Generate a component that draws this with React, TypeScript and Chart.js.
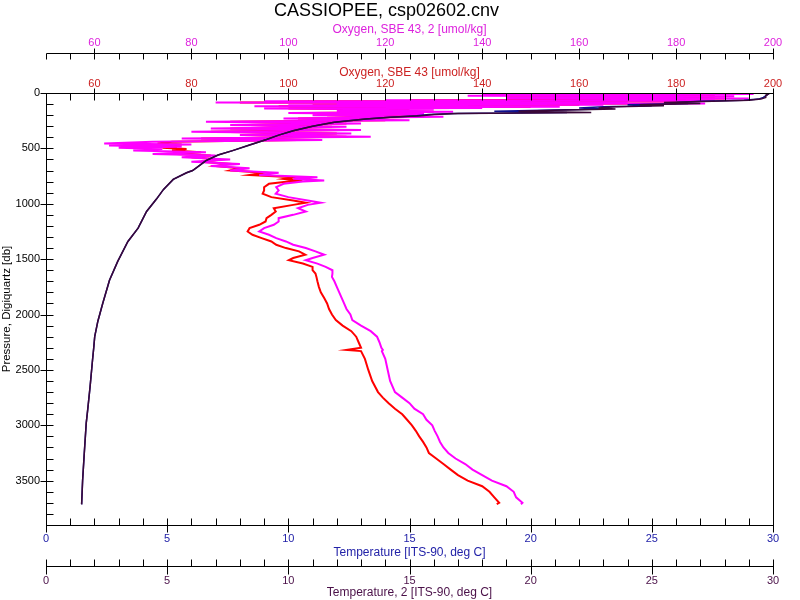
import React, { useEffect, useRef } from 'react';
import { Chart, registerables } from 'chart.js';

Chart.register(...registerables);

const FONT = "'Liberation Sans', Arial, Helvetica, sans-serif";

const chartTitle = 'CASSIOPEE, csp02602.cnv';
const pressureTitle = 'Pressure, Digiquartz [db]';
const oxyTitle = 'Oxygen, SBE 43 [umol/kg]';
const oxy2Title = 'Oxygen, SBE 43, 2 [umol/kg]';
const tempTitle = 'Temperature [ITS-90, deg C]';
const temp2Title = 'Temperature, 2 [ITS-90, deg C]';

// Oxygen profiles (pressure in db)
const oxyPressure = [
  0, 5, 10, 15, 20, 25, 30, 35, 40, 45,
  50, 55, 60, 65, 70, 75, 80, 85, 90, 95,
  100, 105, 110, 115, 120, 125, 130, 135, 140, 150,
  160, 170, 180, 190, 200, 215, 230, 245, 260, 275,
  290, 305, 320, 335, 350, 365, 380, 395, 410, 425,
  440, 455, 465, 475, 485, 495, 505, 520, 535, 550,
  565, 580, 600, 620, 640, 660, 680, 700, 720, 740,
  760, 775, 790, 800, 820, 850, 880, 910, 940, 970,
  990, 1010, 1040, 1070, 1100, 1130, 1160, 1190, 1220, 1250,
  1280, 1310, 1340, 1370, 1400, 1430, 1460, 1490, 1510, 1540,
  1570, 1600, 1630, 1660, 1700, 1750, 1800, 1850, 1900, 1950,
  2000, 2050, 2100, 2150, 2200, 2250, 2300, 2320, 2330, 2400,
  2500, 2600, 2700, 2750, 2800, 2850, 2900, 2950, 3000, 3050,
  3100, 3150, 3200, 3250, 3300, 3350, 3400, 3450, 3500, 3550,
  3600, 3650, 3700, 3712,
];

const oxygen2 = [
  190, 150, 196, 140, 185, 137, 192, 155, 180, 145,
  195, 160, 175, 120, 188, 95, 170, 85, 140, 186,
  110, 165, 100, 150, 93, 156, 105, 140, 95, 130,
  110, 134, 100, 128, 105, 132, 99, 125, 83, 115,
  88, 112, 84, 115, 80, 113, 90, 117, 78, 107,
  72, 62, 80, 63, 78, 65, 74, 68, 83, 72,
  85, 78, 88, 80, 90, 84, 92, 88, 98, 94,
  106, 101, 107.4, 103, 99, 97.5, 98, 97.4, 100, 104,
  106.7, 104, 102, 103.6, 101, 98, 98, 97, 95, 94,
  96, 97.5, 99.5, 101, 103.6, 105.6, 107.4, 105, 103.6, 106,
  107.7, 109.1, 109.1, 109, 109.5, 110, 110.5, 111, 111.5, 112,
  112.8, 113.2, 115, 117, 118.3, 118.8, 119.2, 119.5, 119.3, 120,
  120.5, 121, 122, 123.5, 125, 126, 127.8, 128.5, 129.7, 130.2,
  130.8, 131.3, 132, 133, 134.5, 136.5, 138, 140, 142, 145,
  146.5, 147, 148.3, 148,
];

const oxygen1 = [
  185, 170, 193, 150, 180, 145, 188, 160, 178, 150,
  190, 165, 172, 125, 182, 100, 165, 90, 135, 180,
  115, 160, 105, 145, 98, 150, 110, 135, 100, 125,
  112, 130, 104, 124, 108, 128, 102, 120, 88, 112,
  92, 109, 88, 111, 84, 110, 92, 112, 82, 102,
  76, 73, 78, 72, 77, 74, 79, 76, 82, 77,
  84, 80, 86, 82, 88, 85, 90, 88, 95, 92,
  101, 99, 102.9, 100, 96, 95, 95, 94.7, 96.5, 101,
  103.6, 101, 97, 97.4, 96.5, 95.5, 95.3, 94, 92, 91.6,
  92.6, 94.5, 96.5, 97.5, 99.5, 102.2, 103.5, 101, 100.1, 103,
  105, 105, 105.6, 105.8, 106, 106.3, 106.7, 107.4, 108, 108.4,
  109, 109.8, 111.2, 113, 114, 114.5, 115, 112, 115, 115.8,
  116.5, 117.3, 118.5, 119.5, 120.7, 122, 123.5, 124.5, 125.5, 126.3,
  127, 127.8, 128.5, 129, 130.5, 132, 133.5, 135, 137, 140,
  141.5, 142.5, 143.5, 143,
];

// Temperature profiles (pressure in db)
const tempPressure = [
  0, 10, 25, 40, 55, 65, 75, 85, 95, 105,
  115, 125, 135, 145, 155, 165, 175, 185, 195, 205,
  220, 235, 250, 265, 280, 300, 340, 380, 420, 470,
  520, 560, 610, 660, 700, 720, 780, 870, 960, 1070,
  1220, 1340, 1520, 1690, 1900, 2060, 2200, 2300, 2410, 2650,
  2860, 2980, 3250, 3500, 3714,
];

const temperature2 = [
  29.6, 29.8, 29.7, 29.7, 29.5, 29.0, 27.5, 25.5, 27.0, 24.5,
  25.5, 23.5, 22.8, 23.5, 21.0, 19.5, 22.5, 17.0, 16.0, 15.5,
  14.2, 13.2, 12.5, 11.9, 11.5, 11.0, 10.2, 9.6, 9.1, 8.4,
  7.7, 7.1, 6.6, 6.3, 6.05, 5.8, 5.25, 4.85, 4.55, 4.15,
  3.8, 3.38, 2.96, 2.62, 2.34, 2.14, 2.01, 1.97, 1.92, 1.82,
  1.72, 1.66, 1.58, 1.51, 1.47,
];

const temperature1 = [
  29.6, 29.8, 29.7, 29.6, 29.4, 28.8, 27.0, 26.0, 26.5, 24.0,
  25.0, 23.0, 22.0, 23.0, 20.5, 18.5, 21.5, 16.8, 15.8, 15.3,
  14.2, 13.2, 12.5, 11.9, 11.5, 11.0, 10.2, 9.6, 9.1, 8.4,
  7.7, 7.1, 6.6, 6.3, 6.05, 5.8, 5.25, 4.85, 4.55, 4.15,
  3.8, 3.38, 2.96, 2.62, 2.34, 2.14, 2.01, 1.97, 1.92, 1.82,
  1.72, 1.66, 1.58, 1.51, 1.47,
];

// Axis ranges and tick steps
const oxyRange = [50, 200];
const oxyStep = 5;
const oxyLabelStep = 20;
const tempRange = [0, 30];
const tempStep = 1;
const tempLabelStep = 5;
const pressureRange = [0, 3900];
const pressureStep = 100;
const pressureLabelStep = 500;

const COLORS = {
  oxy2Line: '#ff00ff',
  oxy2Text: '#dd22dd',
  oxyLine: '#ff0000',
  oxyText: '#cc2222',
  tempLine: '#10108c',
  tempText: '#2222a8',
  temp2Line: '#3a0838',
  temp2Text: '#4a1048',
};

const isMult = (v: number, step: number) => Math.abs(v / step - Math.round(v / step)) < 1e-6;

const toPoints = (xs: number[], ps: number[]) => xs.map((v, i) => ({ x: v, y: ps[i] }));

function xScale(
  position: 'top' | 'bottom',
  weight: number,
  range: number[],
  step: number,
  labelStep: number,
  color: string,
  title: string,
  labelPad: number,
  titlePad: any,
  height: number
) {
  return {
    type: 'linear',
    axis: 'x',
    position,
    weight,
    min: range[0],
    max: range[1],
    grid: { display: false, drawTicks: false },
    border: { display: false },
    ticks: {
      stepSize: step,
      autoSkip: false,
      maxTicksLimit: 1000,
      maxRotation: 0,
      minRotation: 0,
      color,
      padding: labelPad,
      font: { family: FONT, size: 11 },
      callback: (v: any) => (isMult(Number(v), labelStep) ? String(v) : ''),
    },
    title: {
      display: true,
      text: title,
      color,
      font: { family: FONT, size: 12 },
      padding: titlePad,
    },
    afterFit: (s: any) => {
      s.height = height;
    },
  };
}

const tickMarks = {
  id: 'tickMarks',
  afterDraw(chart: any) {
    const { ctx, chartArea: a, scales } = chart;
    const L = Math.round(a.left) + 0.5;
    const R = Math.round(a.right) + 0.5;
    const T = Math.round(a.top) + 0.5;
    const B = Math.round(a.bottom) + 0.5;
    ctx.save();
    ctx.strokeStyle = '#000';
    ctx.lineWidth = 1;
    const line = (x1: number, y1: number, x2: number, y2: number) => {
      ctx.beginPath();
      ctx.moveTo(x1, y1);
      ctx.lineTo(x2, y2);
      ctx.stroke();
    };
    const hAxis = (scale: any, y: number, dir: number, inward: number, outward: number, major: number) => {
      line(L, y, R, y);
      for (const t of scale.ticks) {
        const x = Math.round(scale.getPixelForValue(t.value)) + 0.5;
        const isMajor = isMult(t.value, major);
        line(x, y - (isMajor ? dir * outward : 0), x, y + dir * inward);
      }
    };
    // frame
    line(R, T, R, B);
    // top axes
    hAxis(scales.xO2, Math.round(scales.xO2.bottom) - 6.5, 1, 6, 5, oxyLabelStep);
    hAxis(scales.xO, T, 1, 7, 5, oxyLabelStep);
    // bottom axes
    hAxis(scales.xT, B, -1, 7, 7, tempLabelStep);
    hAxis(scales.xT2, Math.round(scales.xT2.top) + 6.5, -1, 7, 8, tempLabelStep);
    // pressure axis
    const ys = scales.y;
    line(L, T, L, B);
    for (const t of ys.ticks) {
      const y = Math.round(ys.getPixelForValue(t.value)) + 0.5;
      const isMajor = isMult(t.value, pressureLabelStep);
      line(L - (isMajor ? 6 : 0), y, L + 7, y);
    }
    ctx.restore();
  },
};

export default function App() {
  const ref = useRef<HTMLCanvasElement | null>(null);

  useEffect(() => {
    if (!ref.current) return;
    const chart = new Chart(ref.current, {
      type: 'scatter',
      data: {
        datasets: [
          {
            label: temp2Title,
            data: toPoints(temperature2, tempPressure),
            xAxisID: 'xT2',
            yAxisID: 'y',
            showLine: true,
            borderColor: COLORS.temp2Line,
            backgroundColor: COLORS.temp2Line,
            borderWidth: 1.5,
            pointRadius: 0,
            tension: 0,
          },
          {
            label: tempTitle,
            data: toPoints(temperature1, tempPressure),
            xAxisID: 'xT',
            yAxisID: 'y',
            showLine: true,
            borderColor: COLORS.tempLine,
            backgroundColor: COLORS.tempLine,
            borderWidth: 1.5,
            pointRadius: 0,
            tension: 0,
          },
          {
            label: oxy2Title,
            data: toPoints(oxygen2, oxyPressure),
            xAxisID: 'xO2',
            yAxisID: 'y',
            showLine: true,
            borderColor: COLORS.oxy2Line,
            backgroundColor: COLORS.oxy2Line,
            borderWidth: 2,
            pointRadius: 0,
            tension: 0,
          },
          {
            label: oxyTitle,
            data: toPoints(oxygen1, oxyPressure),
            xAxisID: 'xO',
            yAxisID: 'y',
            showLine: true,
            borderColor: COLORS.oxyLine,
            backgroundColor: COLORS.oxyLine,
            borderWidth: 2,
            pointRadius: 0,
            tension: 0,
          },
        ],
      },
      options: {
        responsive: false,
        animation: false,
        events: [],
        layout: { padding: { left: 0, right: 27, top: 0, bottom: 0 } },
        plugins: {
          legend: { display: false },
          tooltip: { enabled: false },
          title: {
            display: true,
            text: chartTitle,
            color: '#000',
            font: { family: FONT, size: 18, weight: 'normal', lineHeight: 1 },
            padding: { top: 1.8, bottom: 1.2 },
          },
        },
        scales: {
          xO2: xScale('top', 2, oxyRange, oxyStep, oxyLabelStep, COLORS.oxy2Text, oxy2Title, 10.9, { top: 1.3, bottom: 0 }, 39),
          xO: xScale('top', 1, oxyRange, oxyStep, oxyLabelStep, COLORS.oxyText, oxyTitle, 2.4, { top: 5.3, bottom: 0 }, 33),
          xT: xScale('bottom', 1, tempRange, tempStep, tempLabelStep, COLORS.tempText, tempTitle, 7.4, { top: 0, bottom: 0 }, 35),
          xT2: xScale('bottom', 2, tempRange, tempStep, tempLabelStep, COLORS.temp2Text, temp2Title, 13.9, { top: 0, bottom: 0 }, 40),
          y: {
            type: 'linear',
            axis: 'y',
            position: 'left',
            reverse: true,
            min: pressureRange[0],
            max: pressureRange[1],
            grid: { display: false, drawTicks: false },
            border: { display: false },
            ticks: {
              stepSize: pressureStep,
              autoSkip: false,
              maxTicksLimit: 1000,
              color: '#000',
              padding: 6,
              font: { family: FONT, size: 11 },
              callback: (v: any) => (isMult(Number(v), pressureLabelStep) ? String(v) : ''),
            },
            title: {
              display: true,
              text: pressureTitle,
              color: '#000',
              font: { family: FONT, size: 11.5 },
              padding: { top: 0.1, bottom: 0 },
            },
            afterFit: (s: any) => {
              s.width = 46;
            },
          },
        } as any,
      },
      plugins: [tickMarks],
    } as any);
    return () => chart.destroy();
  }, []);

  return (
    <div style={{ position: 'fixed', left: 0, top: 0, width: 800, height: 600, background: '#fff' }}>
      <canvas ref={ref} width={800} height={600} style={{ width: 800, height: 600, display: 'block' }} />
    </div>
  );
}
